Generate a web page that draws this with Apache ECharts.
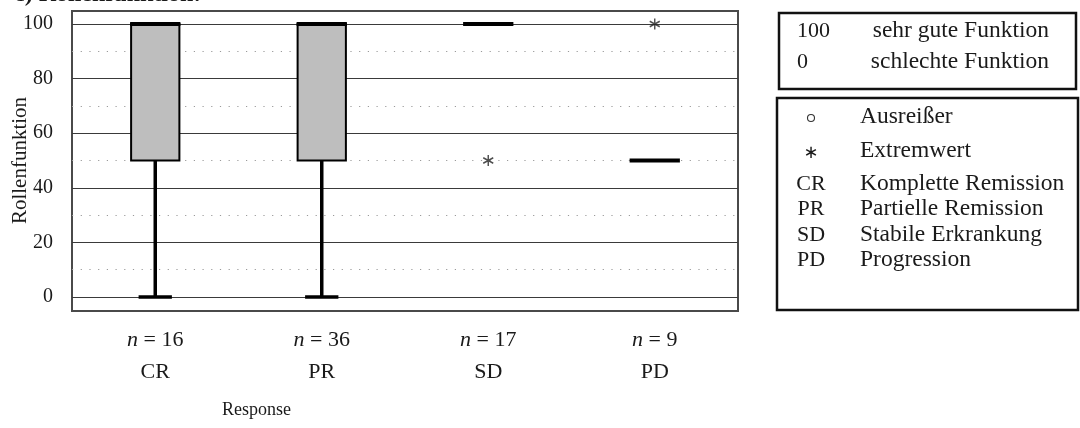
<!DOCTYPE html>
<html>
<head>
<meta charset="utf-8">
<script src="https://cdn.jsdelivr.net/npm/echarts@6/dist/echarts.min.js"></script>
<style>
  html, body { margin: 0; padding: 0; background: #fff; }
  #chart { width: 1080px; height: 428px; }
</style>
</head>
<body>
<div id="chart"></div>
<script>
// Response groups and their sample sizes
const categories = ['CR', 'PR', 'SD', 'PD'];
const sampleSizes = [16, 36, 17, 9];

// Five-number summaries of the role-function score per group
const whiskerLow = [0, 0, 100, 50];
const quartile1 = [50, 50, 100, 50];
const medians = [100, 100, 100, 50];
const quartile3 = [100, 100, 100, 50];
const whiskerHigh = [100, 100, 100, 50];

// Extreme values (asterisks)
const extremeCategories = ['SD', 'PD'];
const extremeValues = [50, 100];

// Scale explanation and key
const scaleValues = ['100', '0'];
const scaleTexts = ['sehr gute Funktion', 'schlechte Funktion'];
const keySymbols = ['', '\u2217', 'CR', 'PR', 'SD', 'PD'];
const keyTexts = ['Ausreißer', 'Extremwert', 'Komplette Remission', 'Partielle Remission', 'Stabile Erkrankung', 'Progression'];

const SERIF = '"Liberation Serif", "Times New Roman", serif';
const TEXT = '#1a1a1a';

const chart = echarts.init(document.getElementById('chart'));

function renderBox(params, api) {
  const idx = api.value(0);
  const lo = api.coord([idx, api.value(1)]);
  const q1 = api.coord([idx, api.value(2)]);
  const md = api.coord([idx, api.value(3)]);
  const q3 = api.coord([idx, api.value(4)]);
  const hi = api.coord([idx, api.value(5)]);
  const band = api.size([1, 0])[0];
  const cx = lo[0];
  const half = band * 0.145;
  const capHalf = band * 0.1;
  const children = [];
  const wStyle = { stroke: '#000', lineWidth: 3.5 };
  if (Math.abs(q1[1] - lo[1]) > 0.5) {
    children.push({ type: 'line', shape: { x1: cx, y1: q1[1], x2: cx, y2: lo[1] }, style: wStyle });
    children.push({ type: 'line', shape: { x1: cx - capHalf, y1: lo[1], x2: cx + capHalf, y2: lo[1] }, style: wStyle });
  }
  if (Math.abs(hi[1] - q3[1]) > 0.5) {
    children.push({ type: 'line', shape: { x1: cx, y1: q3[1], x2: cx, y2: hi[1] }, style: wStyle });
    children.push({ type: 'line', shape: { x1: cx - capHalf, y1: hi[1], x2: cx + capHalf, y2: hi[1] }, style: wStyle });
  }
  if (Math.abs(q1[1] - q3[1]) > 0.5) {
    children.push({
      type: 'rect',
      shape: { x: cx - half, y: q3[1], width: half * 2, height: q1[1] - q3[1] },
      style: { fill: '#bebebe', stroke: '#000', lineWidth: 2 }
    });
  }
  children.push({
    type: 'line',
    shape: { x1: cx - half - 1, y1: md[1], x2: cx + half + 1, y2: md[1] },
    style: { stroke: '#000', lineWidth: 4 }
  });
  return { type: 'group', children: children };
}

const keyGraphics = [];
// scale explanation box
keyGraphics.push({
  type: 'rect', shape: { x: 779, y: 13, width: 297, height: 76 },
  style: { fill: '#fff', stroke: '#111', lineWidth: 2.5 }
});
scaleValues.forEach((v, i) => {
  keyGraphics.push({
    type: 'text',
    style: { x: 797, y: 31 + i * 31, text: v, font: '22px ' + SERIF, fill: TEXT, verticalAlign: 'middle', align: 'left' }
  });
  keyGraphics.push({
    type: 'text',
    style: { x: 1049, y: 31 + i * 31, text: scaleTexts[i], font: '23.5px ' + SERIF, fill: TEXT, verticalAlign: 'middle', align: 'right' }
  });
});
// symbol/abbreviation key
keyGraphics.push({
  type: 'rect', shape: { x: 777, y: 98, width: 301, height: 212 },
  style: { fill: '#fff', stroke: '#111', lineWidth: 2.5 }
});
const keyRows = [117, 151, 184, 209, 235, 260];
keyTexts.forEach((t, i) => {
  if (i === 0) {
    keyGraphics.push({
      type: 'circle', shape: { cx: 811, cy: keyRows[i] + 1, r: 3.5 },
      style: { fill: 'none', stroke: '#333', lineWidth: 1.1 }
    });
  } else {
    keyGraphics.push({
      type: 'text',
      style: { x: 811, y: keyRows[i] + (i === 1 ? 2 : 0), text: keySymbols[i], font: (i === 1 ? '18px "DejaVu Sans", sans-serif' : '22px ' + SERIF), fill: TEXT, verticalAlign: 'middle', align: 'center' }
    });
  }
  keyGraphics.push({
    type: 'text',
    style: { x: 860, y: keyRows[i], text: t, font: '23.5px ' + SERIF, fill: TEXT, verticalAlign: 'middle', align: 'left' }
  });
});

const option = {
  animation: false,
  backgroundColor: '#fff',
  grid: [
    // outer plot frame
    { left: 72, top: 11, right: 342, bottom: 117, show: true, borderColor: '#4a4a4a', borderWidth: 2, backgroundColor: 'transparent', outerBoundsMode: 'none' },
    // data area (0 to 100)
    { left: 72, top: 24, right: 342, bottom: 131, outerBoundsMode: 'none', containLabel: false }
  ],
  xAxis: [
    { gridIndex: 0, type: 'value', show: false },
    {
      gridIndex: 1, type: 'category', data: categories, boundaryGap: true,
      axisLine: { show: false }, axisTick: { show: false }, splitLine: { show: false },
      axisLabel: {
        margin: 27,
        fontFamily: SERIF, fontSize: 22, color: TEXT, lineHeight: 32,
        formatter: (v, i) => '{i|n} = ' + sampleSizes[i] + '\n' + v,
        rich: { i: { fontStyle: 'italic', fontFamily: SERIF, fontSize: 22, color: TEXT } }
      }
    }
  ],
  yAxis: [
    { gridIndex: 0, type: 'value', show: false },
    {
      gridIndex: 1, type: 'value', min: 0, max: 100, interval: 20,
      name: 'Rollenfunktion', nameLocation: 'middle', nameGap: 41, nameRotate: 90,
      nameMoveOverlap: false,
      nameTextStyle: { fontFamily: SERIF, fontSize: 21, color: TEXT },
      axisLine: { show: false }, axisTick: { show: false },
      axisLabel: { margin: 19, fontFamily: SERIF, fontSize: 20, color: TEXT },
      splitLine: { show: true, lineStyle: { color: '#3a3a3a', width: 1 } },
      minorTick: { show: false, splitNumber: 2 },
      minorSplitLine: { show: true, lineStyle: { color: '#9a9a9a', width: 1, type: [1.2, 7.5] } }
    }
  ],
  graphic: [
    {
      type: 'text', left: 14, top: -17,
      style: { text: 'c) Rollenfunktion:', font: 'bold 24px ' + SERIF, fill: TEXT }
    },
    {
      type: 'text', left: 222, top: 401,
      style: { text: 'Response', font: '18px ' + SERIF, fill: TEXT }
    }
  ].concat(keyGraphics),
  series: [
    {
      type: 'custom',
      xAxisIndex: 1, yAxisIndex: 1,
      renderItem: renderBox,
      encode: { x: 0, y: [1, 2, 3, 4, 5] },
      data: categories.map((c, i) => [i, whiskerLow[i], quartile1[i], medians[i], quartile3[i], whiskerHigh[i]]),
      z: 3
    },
    {
      type: 'scatter',
      xAxisIndex: 1, yAxisIndex: 1,
      symbol: 'path://M0,-1L0,1M-0.866,-0.5L0.866,0.5M-0.866,0.5L0.866,-0.5',
      symbolSize: [10, 11],
      itemStyle: { color: 'transparent', borderColor: '#222', borderWidth: 1.5 },
      data: extremeCategories.map((c, i) => [c, extremeValues[i]]),
      z: 4
    }
  ]
};

chart.setOption(option);
</script>
</body>
</html>
